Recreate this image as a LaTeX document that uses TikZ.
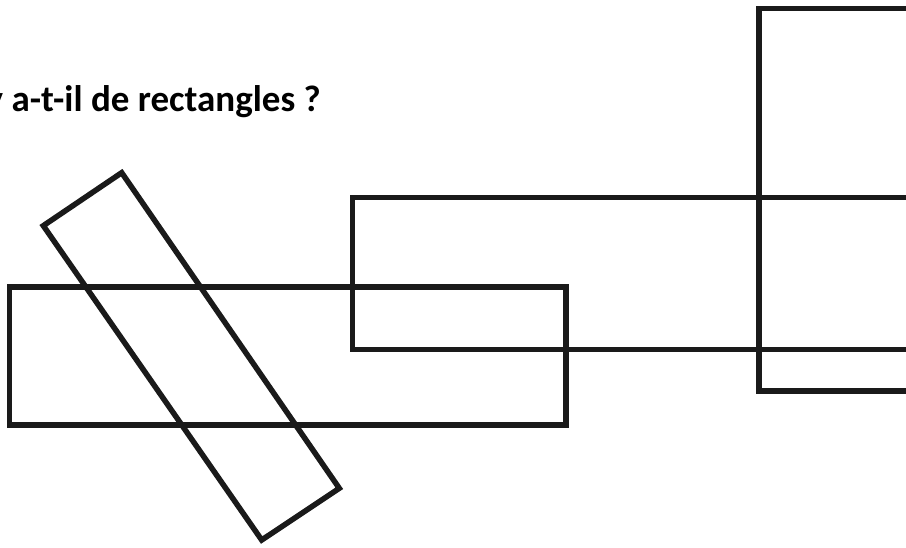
\documentclass[tikz,border=0pt]{standalone}
\usepackage{fontspec}
\setmainfont{Carlito}
\definecolor{ink}{HTML}{1A1A1A}
\tikzset{rectline/.style={draw=ink,line width=5.5pt,line join=miter}}
\begin{document}
\begin{tikzpicture}[x=1pt,y=-1pt]
\useasboundingbox (0,0) rectangle (906,548);
\clip (0,0) rectangle (906,548);
\fill[white] (0,0) rectangle (906,548);
\node[anchor=base east,inner sep=0pt,font=\bfseries\fontsize{37}{40}\selectfont,text=black] (title) at (321,111.7) {y a-t-il de rectangles ?};
% tilted rectangle
\draw[rectline] (121.7,172.7) -- (43.3,225.7) -- (261.7,540) -- (339.3,488.3) -- cycle;
% lower-left rectangle
\draw[rectline] (9.7,287) rectangle (566,425);
% middle rectangle
\draw[rectline] (352.5,197.7) rectangle (930,349.3);
% right rectangle
\draw[rectline] (759,8.3) rectangle (930,391);
\end{tikzpicture}
\end{document}
